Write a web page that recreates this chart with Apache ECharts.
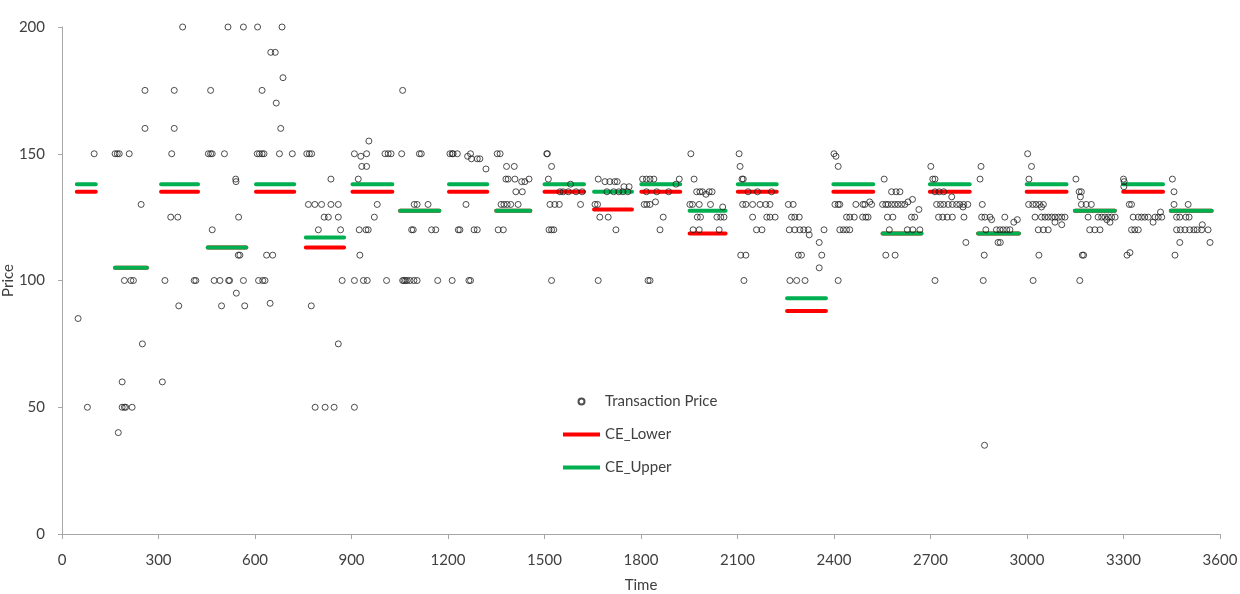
<!DOCTYPE html>
<html>
<head>
<meta charset="utf-8">
<script src="https://cdn.jsdelivr.net/npm/echarts@6/dist/echarts.min.js"></script>
<style>
html,body{margin:0;padding:0;background:#fff;}
#chart{width:1240px;height:594px;}
</style>
</head>
<body>
<div id="chart"></div>
<script>
// ---- Transaction prices (time in seconds, price) ----
const tradeTime = [
  50,79,100,
  165,172,178,209,194,214,222,246,258,258,175,187,187,194,198,218,250,
  320,341,349,349,338,360,375,411,416,312,363,
  462,455,462,467,505,467,473,491,518,521,564,516,564,541,540,549,548,553,542,496,568,
  608,684,607,614,622,628,676,716,622,649,663,687,666,680,611,624,631,636,655,647,
  761,769,776,766,786,807,836,859,815,828,859,797,866,836,871,775,787,818,846,859,
  909,947,929,932,947,954,921,980,971,924,945,952,926,909,937,949,1009,1004,1014,1023,909,
  1056,1059,1111,1117,1095,1104,1138,1087,1092,1149,1162,1059,1063,1068,1073,1082,1094,1104,1168,
  1206,1213,1216,1229,1261,1270,1273,1291,1299,1318,1256,1213,1265,1270,1232,1237,1281,1291,
  1353,1362,1382,1406,1380,1387,1408,1429,1439,1452,1411,1431,1365,1374,1384,1395,1418,1356,1372,
  1507,1509,1522,1512,1581,1548,1558,1574,1598,1617,1517,1532,1546,1612,1514,1522,1529,1522,
  1667,1688,1703,1718,1726,1747,1763,1694,1715,1731,1744,1759,1657,1665,1672,1698,1722,1667,
  1805,1817,1828,1840,1909,1919,1817,1849,1886,1810,1818,1828,1845,1869,1859,1822,1828,
  1955,1965,1973,1983,1991,2002,2012,2021,1952,1960,1981,2016,2054,1975,1985,2036,2048,2058,1962,1981,2043,
  2105,2108,2114,2118,2133,2162,2206,2116,2126,2147,2170,2188,2201,2147,2191,2201,2217,2159,2176,2110,2126,2120,
  2258,2273,2268,2278,2292,2261,2278,2294,2306,2320,2323,2289,2299,2263,2284,2310,2354,2362,2354,2369,
  2400,2406,2413,2403,2413,2418,2468,2490,2496,2511,2517,2439,2449,2463,2489,2499,2506,2418,2429,2439,2449,2413,
  2556,2579,2593,2605,2551,2561,2568,2579,2589,2599,2610,2620,2630,2644,2664,2566,2583,2641,2651,2572,2628,2645,2667,2561,2590,
  2701,2707,2714,2714,2727,2741,2766,2719,2731,2741,2755,2768,2781,2791,2803,2816,2801,2725,2738,2752,2768,2804,2810,2714,
  2857,2854,2861,2859,2869,2885,2890,2931,2959,2970,2872,2905,2916,2926,2937,2947,2910,2917,2867,2864,2868,
  3002,3014,3006,3005,3018,3028,3039,3051,3025,3045,3056,3066,3077,3087,3098,3108,3118,3045,3087,3108,3035,3051,3066,3037,3019,
  3152,3162,3169,3166,3169,3184,3200,3190,3221,3232,3242,3253,3263,3274,3248,3258,3195,3211,3227,3172,3176,3164,
  3300,3302,3301,3318,3325,3330,3346,3356,3366,3377,3398,3408,3419,3392,3415,3325,3335,3346,3311,3320,
  3452,3457,3457,3501,3465,3475,3494,3504,3545,3465,3477,3491,3506,3519,3529,3543,3563,3475,3569,3460
];
const tradePrice = [
  85,50,150,
  150,150,150,150,100,100,100,130,175,160,40,60,50,50,50,50,75,
  100,150,175,160,125,125,200,100,100,60,90,
  175,150,150,150,150,120,100,100,100,100,100,200,200,139,140,125,110,110,95,90,90,
  200,200,150,150,150,150,150,150,175,190,190,180,170,160,100,100,100,110,110,91,
  150,150,150,130,130,130,130,130,125,125,125,120,120,140,100,90,50,50,50,75,
  150,150,149,145,145,155,140,130,125,120,120,120,110,100,100,100,100,150,150,150,50,
  150,175,150,150,130,130,130,120,120,120,120,100,100,100,100,100,100,100,100,
  150,150,150,150,149,150,148,148,148,144,130,100,100,100,120,120,120,120,
  150,150,145,145,140,140,140,139,139,140,135,135,130,130,130,130,130,120,120,
  150,150,145,140,138,135,135,135,135,135,130,130,130,130,120,120,120,100,
  140,139,139,139,139,137,137,135,135,135,135,135,130,130,125,125,120,100,
  140,140,140,140,138,140,135,135,135,130,130,130,131,125,120,100,100,
  150,140,135,135,135,134,135,135,130,130,130,130,129,125,125,125,125,125,120,120,120,
  150,145,140,140,135,135,135,130,130,130,130,130,130,125,125,125,125,120,120,110,110,100,
  130,130,125,125,125,120,120,120,120,120,118,110,110,100,100,100,115,110,105,120,
  150,149,145,130,130,130,130,130,130,131,130,125,125,125,125,125,125,120,120,120,120,100,
  140,135,135,135,130,130,130,130,130,130,130,130,131,132,128,125,125,125,125,120,120,120,120,110,110,
  145,140,140,135,135,135,133,130,130,130,130,130,130,130,130,130,129,125,125,125,125,125,115,100,
  145,140,130,125,125,125,124,125,123,124,120,120,120,120,120,120,115,115,110,100,35,
  150,145,140,130,130,130,130,130,125,125,125,125,125,125,125,125,125,129,123,122,120,120,120,110,100,
  140,135,135,133,130,130,130,125,125,125,125,125,125,125,124,123,120,120,120,110,110,100,
  140,139,137,130,130,125,125,125,125,125,125,125,125,123,127,120,120,120,110,111,
  140,135,130,130,125,125,125,125,122,120,120,120,120,120,120,120,120,115,115,110
];

// ---- Competitive equilibrium band per 150 s period ----
const segStart = [46,165,308,453,603,758,903,1051,1203,1350,1500,1654,1801,1951,2101,2254,2398,2551,2698,2848,2999,3149,3299,3447];
const segEnd   = [105,264,423,573,722,877,1027,1173,1322,1456,1623,1772,1922,2063,2222,2375,2522,2672,2822,2975,3123,3273,3423,3574];
const ceLower  = [135,105,135,113,135,113,135,127.5,135,127.5,135,128,135,118.5,135,88,135,118.5,135,118.5,135,127.5,135,127.5];
const ceUpper  = [138,105,138,113,138,117,138,127.5,138,127.5,138,135,138,127.5,138,93,138,118.5,138,118.5,138,127.5,138,127.5];

// ---- Axis ticks ----
const xTicks = {min: 0, max: 3600, interval: 300};
const yTicks = {min: 0, max: 200, interval: 50};

const scatterData = tradeTime.map((t, i) => [t, tradePrice[i]]);
function segData(vals) {
  const out = [];
  vals.forEach((v, i) => {
    out.push([segStart[i], v]);
    out.push([segEnd[i], v]);
    out.push([segEnd[i], '-']);
  });
  return out;
}

const FONT = 'Lato';
const TXT = '#404040';
const AX = '#a6a6a6';
const LINE_ICON = 'path://M0,0L0,6M0,1L37,1L37,5L0,5Z';

const chart = echarts.init(document.getElementById('chart'), null, {renderer: 'canvas'});
chart.setOption({
  animation: false,
  backgroundColor: '#ffffff',
  textStyle: {fontFamily: FONT},
  grid: {left: 62, right: 20, top: 27, bottom: 60, containLabel: false, outerBoundsMode: 'none'},
  legend: {
    orient: 'vertical',
    left: 563,
    top: 394,
    padding: 0,
    itemWidth: 37,
    itemHeight: 6,
    itemGap: 18,
    textStyle: {fontFamily: FONT, fontSize: 15, color: TXT},
    data: [
      {name: 'Transaction Price', icon: 'circle'},
      {name: 'CE_Lower', icon: LINE_ICON},
      {name: 'CE_Upper', icon: LINE_ICON}
    ]
  },
  xAxis: {
    type: 'value',
    min: xTicks.min, max: xTicks.max, interval: xTicks.interval,
    name: 'Time',
    nameLocation: 'middle',
    nameGap: 44,
    nameMoveOverlap: false,
    nameTextStyle: {fontFamily: FONT, fontSize: 15, color: TXT},
    axisLine: {show: true, lineStyle: {color: AX, width: 1}},
    axisTick: {show: true, length: 5, lineStyle: {color: AX}},
    axisLabel: {fontFamily: FONT, fontSize: 15, color: TXT, margin: 19, formatter: v => String(v)},
    splitLine: {show: false}
  },
  yAxis: {
    type: 'value',
    min: yTicks.min, max: yTicks.max, interval: yTicks.interval,
    name: 'Price',
    nameLocation: 'middle',
    nameGap: 46,
    nameMoveOverlap: false,
    nameTextStyle: {fontFamily: FONT, fontSize: 15, color: TXT},
    axisLine: {show: true, lineStyle: {color: AX, width: 1}},
    axisTick: {show: true, length: 4, lineStyle: {color: AX}},
    axisLabel: {fontFamily: FONT, fontSize: 15, color: TXT, margin: 17, formatter: v => String(v)},
    splitLine: {show: false}
  },
  series: [
    {
      name: 'Transaction Price',
      type: 'scatter',
      z: 5,
      symbol: 'circle',
      symbolSize: 6,
      itemStyle: {color: 'rgba(255,255,255,0)', borderColor: '#222222', borderWidth: 1},
      data: scatterData
    },
    {
      name: 'CE_Lower',
      type: 'line',
      z: 2,
      symbol: 'none',
      showSymbol: false,
      connectNulls: false,
      lineStyle: {color: '#ff0000', width: 4, cap: 'round'},
      itemStyle: {color: '#ff0000'},
      data: segData(ceLower)
    },
    {
      name: 'CE_Upper',
      type: 'line',
      z: 2,
      symbol: 'none',
      showSymbol: false,
      connectNulls: false,
      lineStyle: {color: '#00b050', width: 4, cap: 'round'},
      itemStyle: {color: '#00b050'},
      data: segData(ceUpper)
    }
  ]
});
</script>
</body>
</html>
